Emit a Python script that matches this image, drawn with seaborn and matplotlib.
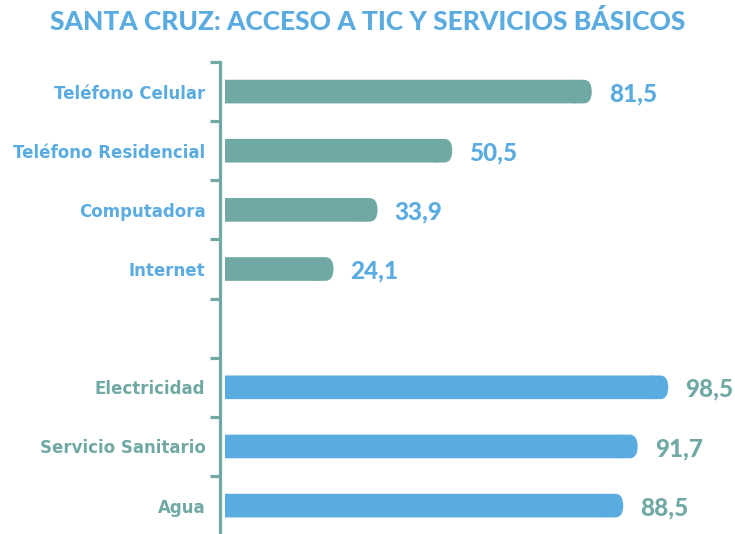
import matplotlib
matplotlib.use("Agg")
import matplotlib.pyplot as plt
import seaborn as sns
import pandas as pd
import numpy as np
from matplotlib.patches import FancyBboxPatch

categories = ["Teléfono Celular", "Teléfono Residencial", "Computadora", "Internet",
              "Electricidad", "Servicio Sanitario", "Agua"]
values = [81.5, 50.5, 33.9, 24.1, 98.5, 91.7, 88.5]
groups = ["TIC", "TIC", "TIC", "TIC", "Servicios", "Servicios", "Servicios"]
order = ["Teléfono Celular", "Teléfono Residencial", "Computadora", "Internet", "",
         "Electricidad", "Servicio Sanitario", "Agua"]
title = "SANTA CRUZ: ACCESO A TIC Y SERVICIOS BÁSICOS"

TEAL = "#70A8A4"
BLUE = "#5AABE0"
bar_color = {"TIC": TEAL, "Servicios": BLUE}
text_color = {"TIC": BLUE, "Servicios": TEAL}

df = pd.DataFrame({"cat": categories, "val": values, "grp": groups})

sns.set_theme(style="white")
plt.rcParams["font.family"] = ["DejaVu Sans"]

W, H = 735, 534
fig = plt.figure(figsize=(W / 100, H / 100), dpi=100)
ax_left, ax_right, ax_top, ax_bot = 220, 735, 62, 0
ax_h = H - ax_top - ax_bot
ax = fig.add_axes([ax_left / W, ax_bot / H, (ax_right - ax_left) / W, ax_h / H])

sns.barplot(data=df, x="val", y="cat", hue="grp", order=order, palette=bar_color,
            dodge=False, width=0.4, legend=False, ax=ax, saturation=1, linewidth=0)

px_per_x = 4.5
x0_px = 225
ax.set_xlim(-(x0_px - ax_left) / px_per_x, (ax_right - x0_px) / px_per_x)
ax.set_ylim(7.48, -0.5)

# value labels
for cont in ax.containers:
    for p in cont:
        w = p.get_width()
        if not np.isfinite(w) or w == 0:
            continue
        yc = p.get_y() + p.get_height() / 2
        idx = values.index(w) if w in values else None
        g = groups[idx] if idx is not None else "TIC"
        ax.annotate(f"{w:.1f}".replace(".", ","), xy=(w, yc), xytext=(17, -2),
                    textcoords="offset pixels", ha="left", va="center",
                    fontsize=17.5, fontweight="black", color=text_color[g],
                    family=["Lato", "DejaVu Sans"])

# rounded right ends
rx_px = 8
for cont in ax.containers:
    for p in list(cont):
        w = p.get_width()
        if not np.isfinite(w) or w == 0:
            continue
        y, h = p.get_y(), p.get_height()
        rx = rx_px / px_per_x
        ry = h / 2
        aspect = ry / rx
        cap = FancyBboxPatch((w - 3 * rx, y), 3 * rx, h,
                             boxstyle=f"round,pad=0,rounding_size={rx}",
                             mutation_aspect=aspect, facecolor=p.get_facecolor(),
                             edgecolor="none", linewidth=0)
        cap.set_snap(False)
        ax.add_patch(cap)
        p.set_snap(False)
        p.set_width(w - 2 * rx)

# spines and ticks
for s in ["top", "right", "bottom"]:
    ax.spines[s].set_visible(False)
ax.spines["left"].set_color(TEAL)
ax.spines["left"].set_linewidth(2.3)
ax.set_xticks([])
ax.set_xlabel("")
ax.set_ylabel("")
ax.set_yticks(range(len(order)))
ax.set_yticklabels(order)
ax.set_yticks(np.arange(-0.5, 7.5, 1.0), minor=True)
ax.tick_params(axis="y", which="major", length=0, pad=10.5)
ax.tick_params(axis="y", which="minor", length=7, width=2.3, color=TEAL, left=True)
lab_col = {c: text_color[g] for c, g in zip(categories, groups)}
for t in ax.get_yticklabels():
    t.set_fontweight("bold")
    t.set_fontsize(12)
    t.set_color(lab_col.get(t.get_text(), TEAL))

fig.text(0.5, 1 - 22 / H, title, ha="center", va="center", fontsize=19,
         fontweight="black", color=BLUE, family=["Lato", "DejaVu Sans"])

fig.savefig("out.png", dpi=100)
